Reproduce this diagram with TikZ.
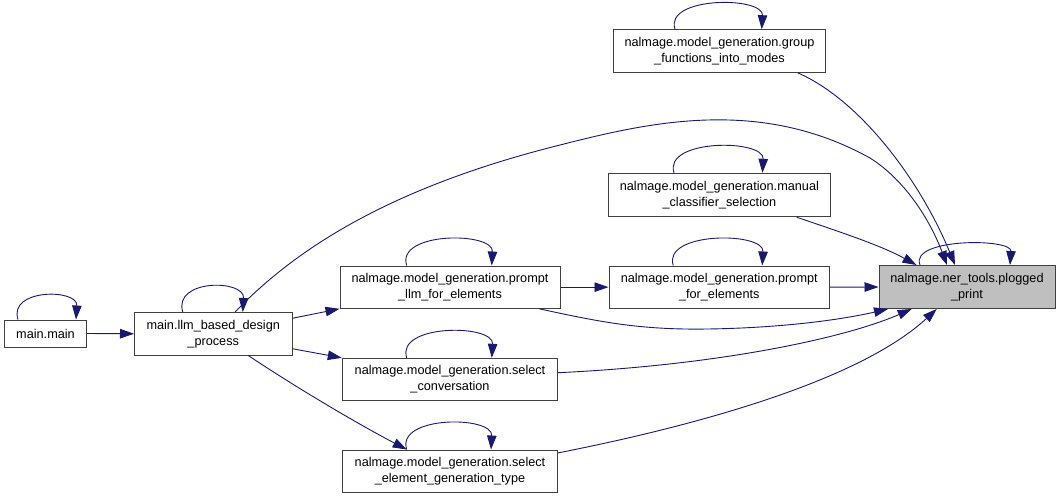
\documentclass[tikz,border=0pt]{standalone}
\usepackage{fontspec}
\setmainfont{Liberation Sans}
\usetikzlibrary{arrows.meta}
\definecolor{edgec}{HTML}{191970}
\definecolor{boxline}{HTML}{404040}
\definecolor{hl}{HTML}{BFBFBF}
\begin{document}
\begin{tikzpicture}[x=1pt,y=-1pt,
  fn/.style={draw=boxline, line width=1pt, fill=white, inner sep=0pt, align=center,
    font=\fontsize{12.7}{16}\selectfont},
  edge/.style={draw=edgec, line width=0.9pt, -{Triangle[length=14pt,width=9.5pt]}, edgec},
]
\fill[white] (0,0) rectangle (1060,499);
\useasboundingbox (0,0) rectangle (1060,499);

\node[fn, minimum width=82pt, minimum height=27pt] (mm) at (45.5,333.5) {main.main};
\node[fn, minimum width=157.5pt, minimum height=42.5pt] (llm) at (213.25,333.75) {main.llm\_based\_design\\\_process};
\node[fn, minimum width=220pt, minimum height=42.3pt] (pllm) at (450,287.15) {nalmage.model\_generation.prompt\\\_llm\_for\_elements};
\node[fn, minimum width=220.5pt, minimum height=42.3pt] (pfor) at (719.25,287.15) {nalmage.model\_generation.prompt\\\_for\_elements};
\node[fn, minimum width=222pt, minimum height=43.4pt] (manual) at (719.4,195) {nalmage.model\_generation.manual\\\_classifier\_selection};
\node[fn, minimum width=212.4pt, minimum height=42.6pt] (group) at (719.5,51) {nalmage.model\_generation.group\\\_functions\_into\_modes};
\node[fn, fill=hl, minimum width=176pt, minimum height=43pt] (plog) at (967,287) {nalmage.ner\_tools.plogged\\\_print};
\node[fn, minimum width=215.4pt, minimum height=42.4pt] (sconv) at (450,379.5) {nalmage.model\_generation.select\\\_conversation};
\node[fn, minimum width=215.4pt, minimum height=42.3pt] (selem) at (450,471.15) {nalmage.model\_generation.select\\\_element\_generation\_type};

% self loops
\draw[edge] ([xshift=-27.5pt]mm.north) .. controls +(-10,-31) and +(2,-31) .. ([xshift=30.5pt]mm.north);
\draw[edge] ([xshift=-30.5pt]llm.north) .. controls +(-10,-33) and +(2,-33) .. ([xshift=29.5pt]llm.north);
\draw[edge] ([xshift=-43.3pt]pllm.north) .. controls +(-11,-34) and +(2,-34) .. ([xshift=41.7pt]pllm.north);
\draw[edge] ([xshift=-46pt]pfor.north) .. controls +(-11,-34) and +(2,-34) .. ([xshift=43pt]pfor.north);
\draw[edge] ([xshift=-45.4pt]manual.north) .. controls +(-11,-34) and +(2,-34) .. ([xshift=43pt]manual.north);
\draw[edge] ([xshift=-44.5pt]group.north) .. controls +(-11,-33) and +(2,-33) .. ([xshift=42.2pt]group.north);
\draw[edge] ([xshift=-47pt]plog.north) .. controls +(-11,-27) and +(2,-27) .. ([xshift=43pt]plog.north);
\draw[edge] ([xshift=-43.3pt]sconv.north) .. controls +(-11,-34) and +(2,-34) .. ([xshift=41.8pt]sconv.north);
\draw[edge] ([xshift=-43.3pt]selem.north) .. controls +(-11,-34) and +(2,-34) .. ([xshift=41pt]selem.north);

% calls
\draw[edge] (mm.east) -- (llm.west);
\draw[edge] ([yshift=15.5pt]llm.east) -- (pllm.south west);
\draw[edge] ([yshift=-15pt]llm.east) -- (sconv.north west);
\draw[edge] ([xshift=35pt]llm.south) .. controls (300,390) and (360,425) .. ([xshift=-43.3pt]selem.north);
\draw[edge] ([xshift=21.75pt]llm.north) .. controls (290,255) and (380,190) .. (560,145)
  .. controls (650,122) and (760,97) .. (870,158)
  .. controls (905,180) and (930,220) .. ([xshift=-20pt]plog.north);
\draw[edge] (pllm.east) -- (pfor.west);
\draw[edge] ([xshift=89.3pt]pllm.south) .. controls (600,322) and (640,330) .. (707,329)
  .. controls (780,328) and (840,320) .. ([xshift=-79pt]plog.south);
\draw[edge] (pfor.east) -- (plog.west);
\draw[edge] ([xshift=77.3pt]manual.south) .. controls (840,232) and (880,245) .. ([xshift=-50.5pt]plog.north);
\draw[edge] ([xshift=78.2pt]group.south) .. controls (860,100) and (920,180) .. ([xshift=-12pt]plog.north);
\draw[edge] ([yshift=6.8pt]sconv.east) .. controls (720,365) and (845,338) .. ([xshift=-55.3pt]plog.south);
\draw[edge] ([yshift=18.3pt]selem.east) .. controls (700,425) and (860,380) .. ([xshift=-30.3pt]plog.south);
\end{tikzpicture}
\end{document}
